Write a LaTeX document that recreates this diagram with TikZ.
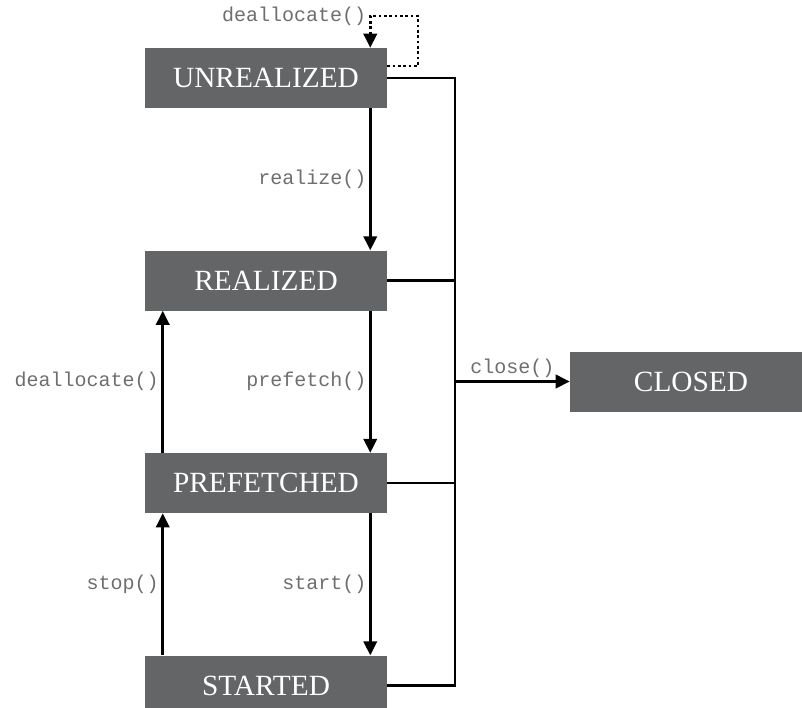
\documentclass[tikz,border=0pt]{standalone}
\usepackage{fontspec}
\setmainfont{Liberation Serif}
\setmonofont{Liberation Mono}
\usetikzlibrary{arrows.meta,positioning}
\definecolor{boxgray}{HTML}{646567}
\definecolor{labelgray}{HTML}{6E6E6E}

\begin{document}
\begin{tikzpicture}[
      x=0.75pt,y=-0.75pt,
      node distance=106.5pt,
      state/.style={rectangle,fill=boxgray,text=white,minimum width=181.5pt,minimum height=45pt,inner sep=0pt,font=\fontsize{22}{24}\selectfont},
      lbl/.style={text=labelgray,font=\ttfamily\fontsize{15}{17}\selectfont,inner sep=2pt},
      arrow/.style={-{Triangle[length=10.5pt,width=10pt]},line width=2pt},
      bus/.style={line width=2pt}
    ]
    \useasboundingbox (0,0) rectangle (802,707);
    \node[state] (unrealized) at (266,78) {UNREALIZED};
    \node[state,below=of unrealized] (realized) {REALIZED};
    \node[state,below=of realized] (prefetched) {PREFETCHED};
    \node[state,below=of prefetched] (started) {STARTED};
    \node[state] (closed) at (691,381.5) {CLOSED};
    \coordinate (bustop) at (455,78);
    % forward transitions
    \draw[arrow] ([xshift=-12.75pt]unrealized.south east) -- node[lbl,left] {realize()} ([xshift=-12.75pt]realized.north east);
    \draw[arrow] ([xshift=-12.75pt]realized.south east) -- node[lbl,left] {prefetch()} ([xshift=-12.75pt]prefetched.north east);
    \draw[arrow] ([xshift=-12.75pt]prefetched.south east) -- node[lbl,left] {start()} ([xshift=-12.75pt]started.north east);
    % backward transitions
    \draw[arrow] ([xshift=13.5pt]prefetched.north west) -- node[lbl,left] {deallocate()} ([xshift=13.5pt]realized.south west);
    \draw[arrow] ([xshift=13.5pt]started.north west) -- node[lbl,left] {stop()} ([xshift=13.5pt]prefetched.south west);
    % self loop
    \draw[arrow,dotted,line width=2pt] ([yshift=9pt]unrealized.east) -| (418,16) -| node[lbl,left,pos=0.5] {deallocate()} ([xshift=-12.75pt]unrealized.north east);
    % close bus
    \draw[bus] (unrealized.east) -- (bustop) -- (bustop |- started.east) -- (started.east);
    \draw[bus] (realized.east) -- (realized.east -| bustop);
    \draw[bus] (prefetched.east) -- (prefetched.east -| bustop);
    \draw[arrow] (closed.west -| bustop) -- node[lbl,above] {close()} (closed.west);
  \end{tikzpicture}
\end{document}
